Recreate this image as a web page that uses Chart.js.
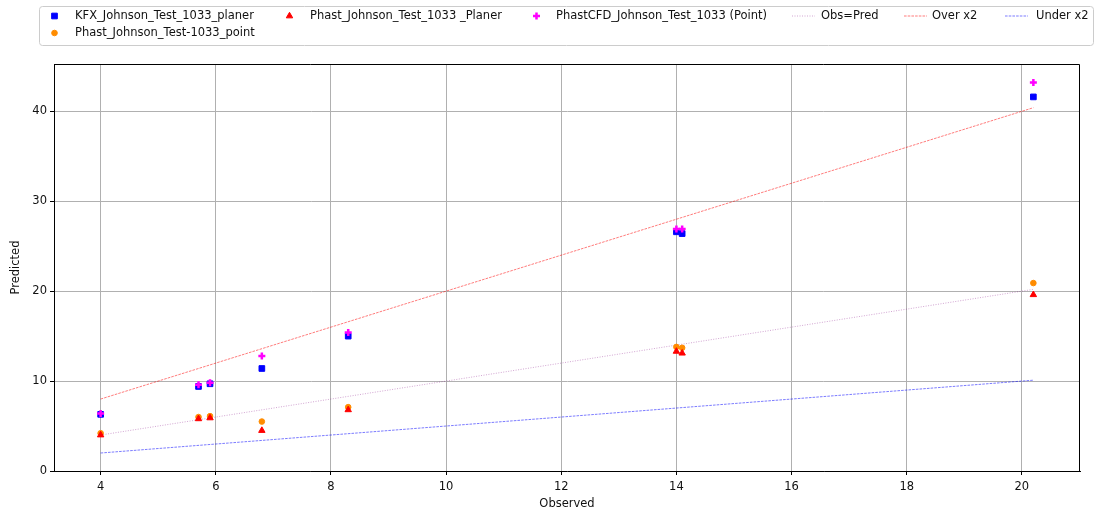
<!DOCTYPE html>
<html>
<head>
<meta charset="utf-8">
<script src="https://cdn.jsdelivr.net/npm/chart.js@4.4.0/dist/chart.umd.min.js"></script>
<style>
  body { margin: 0; background: #fff; }
  #wrap { width: 1096px; height: 516px; }
</style>
</head>
<body>
<div id="wrap"><canvas id="chart" width="1096" height="516"></canvas></div>
<script>
// Observed values, shared by every model series
const observed = [4.0, 5.7, 5.9, 6.8, 8.3, 14.0, 14.1, 20.2];

// Predicted values per model
const kfxPlaner = [6.3, 9.4, 9.7, 11.4, 15.0, 26.6, 26.4, 41.6];
const phastPoint = [4.2, 6.0, 6.1, 5.5, 7.1, 13.8, 13.7, 20.9];
const phastPlaner = [4.0, 5.8, 5.9, 4.5, 6.8, 13.3, 13.1, 19.6];
const phastCfdPoint = [6.4, 9.6, 9.8, 12.8, 15.4, 26.9, 26.9, 43.2];

// Reference lines between the smallest and largest observation
const refX = [4.0, 20.2];
const obsPredY = [4.0, 20.2];
const overY = [8.0, 40.4];
const underY = [2.0, 10.1];

const xTicks = [4, 6, 8, 10, 12, 14, 16, 18, 20];
const yTicks = [0, 10, 20, 30, 40];

const FONT = { family: 'DejaVu Sans', size: 11.5 };

function toPoints(xs, ys) {
    return xs.map((x, i) => ({ x: x, y: ys[i] }));
}

function markerSet(label, ys, color, pointStyle, radius, order) {
    return {
        label: label,
        data: toPoints(observed, ys),
        pointStyle: pointStyle,
        pointRadius: radius,
        pointBackgroundColor: color,
        pointBorderColor: color,
        pointBorderWidth: 1,
        showLine: false,
        order: order
    };
}

function refLineSet(label, ys, color, dash, order) {
    return {
        label: label,
        data: toPoints(refX, ys),
        showLine: true,
        borderColor: color,
        borderWidth: 0.8,
        borderDash: dash,
        pointRadius: 0,
        fill: false,
        order: order
    };
}

const datasets = [
    markerSet('KFX_Johnson_Test_1033_planer', kfxPlaner, '#0000ff', 'rect', 4, 4),
    markerSet('Phast_Johnson_Test-1033_point', phastPoint, '#ff8c00', 'circle', 2.8, 3),
    markerSet('Phast_Johnson_Test_1033 _Planer', phastPlaner, '#ff0000', 'triangle', 3.7, 2),
    markerSet('PhastCFD_Johnson_Test_1033 (Point)', phastCfdPoint, '#ff00ff', 'cross', 3.5, 1),
    refLineSet('Obs=Pred', obsPredY, 'rgba(128, 0, 128, 0.45)', [1, 1.5], 5),
    refLineSet('Over x2', overY, 'rgba(255, 0, 0, 0.65)', [2.6, 1.1], 6),
    refLineSet('Under x2', underY, 'rgba(0, 0, 255, 0.65)', [2.6, 1.1], 7)
];
// the plus marker is stroked, so it needs a thick pen
datasets[3].pointBorderWidth = 2.5;

// Top and right sides of the box around the plot area (left and bottom are the axes)
const frameBox = {
    id: 'frameBox',
    afterDraw(chart) {
        const { ctx, chartArea: a } = chart;
        const left = Math.round(a.left) + 0.5;
        const top = Math.round(a.top) + 0.5;
        const right = Math.round(a.right) - 0.5;
        const bottom = Math.round(a.bottom) + 0.5;
        ctx.save();
        ctx.strokeStyle = '#000';
        ctx.lineWidth = 1;
        ctx.beginPath();
        ctx.moveTo(left, top);
        ctx.lineTo(right, top);
        ctx.lineTo(right, bottom);
        ctx.stroke();
        ctx.restore();
    }
};

// Boxed legend laid out in columns, with the point series stacked in the first column
const boxLegend = {
    id: 'boxLegend',
    afterDraw(chart, args, opts) {
        const ctx = chart.ctx;
        const b = opts.box;
        ctx.save();
        ctx.fillStyle = 'rgba(255,255,255,0.8)';
        ctx.strokeStyle = '#cccccc';
        ctx.lineWidth = 1;
        ctx.beginPath();
        ctx.roundRect(b.x + 0.5, b.y + 0.5, b.w, b.h, 3);
        ctx.fill();
        ctx.stroke();

        ctx.font = `${FONT.size}px ${FONT.family}`;
        ctx.textBaseline = 'middle';
        opts.slots.forEach(slot => {
            const ds = chart.data.datasets[slot.index];
            const y = opts.rows[slot.row];
            if (ds.showLine) {
                ctx.strokeStyle = ds.borderColor;
                ctx.lineWidth = ds.borderWidth;
                ctx.setLineDash(ds.borderDash);
                ctx.beginPath();
                ctx.moveTo(slot.hx, y);
                ctx.lineTo(slot.hx + opts.handleLength, y);
                ctx.stroke();
                ctx.setLineDash([]);
            } else {
                ctx.fillStyle = ds.pointBackgroundColor;
                ctx.strokeStyle = ds.pointBorderColor;
                ctx.lineWidth = ds.pointBorderWidth;
                Chart.helpers.drawPoint(ctx, {
                    pointStyle: ds.pointStyle,
                    radius: ds.pointRadius,
                    borderWidth: ds.pointBorderWidth,
                    rotation: 0
                }, slot.hx + opts.handleLength / 2, y);
            }
            ctx.fillStyle = '#111';
            ctx.fillText(ds.label, slot.tx, y);
        });
        ctx.restore();
    }
};

const ctx = document.getElementById('chart').getContext('2d');
const chart = new Chart(ctx, {
    type: 'scatter',
    data: { datasets: datasets },
    options: {
        responsive: false,
        animation: false,
        layout: { padding: { left: 0, top: 64, right: 16, bottom: 0 } },
        scales: {
            x: {
                type: 'linear',
                min: 3.19,
                max: 21.01,
                afterBuildTicks: scale => { scale.ticks = xTicks.map(v => ({ value: v })); },
                afterFit: scale => { scale.height = 45; },
                grid: { color: '#b0b0b0', lineWidth: 1, tickLength: 4, tickColor: '#000' },
                border: { color: '#000', width: 1 },
                ticks: { color: '#111', font: FONT, padding: 5, maxRotation: 0 },
                title: {
                    display: true,
                    text: 'Observed',
                    color: '#111',
                    font: FONT,
                    padding: { top: 0, bottom: 5 }
                }
            },
            y: {
                type: 'linear',
                min: 0,
                max: 45.26,
                afterBuildTicks: scale => { scale.ticks = yTicks.map(v => ({ value: v })); },
                afterFit: scale => { scale.width = 54; },
                grid: { color: '#b0b0b0', lineWidth: 1, tickLength: 4, tickColor: '#000' },
                border: { color: '#000', width: 1 },
                ticks: { color: '#111', font: FONT, padding: 3 },
                title: {
                    display: true,
                    text: 'Predicted',
                    color: '#111',
                    font: FONT,
                    padding: { top: 9, bottom: 0 }
                }
            }
        },
        plugins: {
            legend: { display: false },
            tooltip: { enabled: false },
            boxLegend: {
                box: { x: 39, y: 6, w: 1054, h: 39 },
                rows: [16, 33],
                handleLength: 23,
                slots: [
                    { index: 0, row: 0, hx: 43, tx: 75 },
                    { index: 1, row: 1, hx: 43, tx: 75 },
                    { index: 2, row: 0, hx: 278, tx: 310 },
                    { index: 3, row: 0, hx: 525, tx: 556 },
                    { index: 4, row: 0, hx: 792, tx: 821 },
                    { index: 5, row: 0, hx: 904, tx: 932 },
                    { index: 6, row: 0, hx: 1005, tx: 1036 }
                ]
            }
        }
    },
    plugins: [frameBox, boxLegend]
});
</script>
</body>
</html>
